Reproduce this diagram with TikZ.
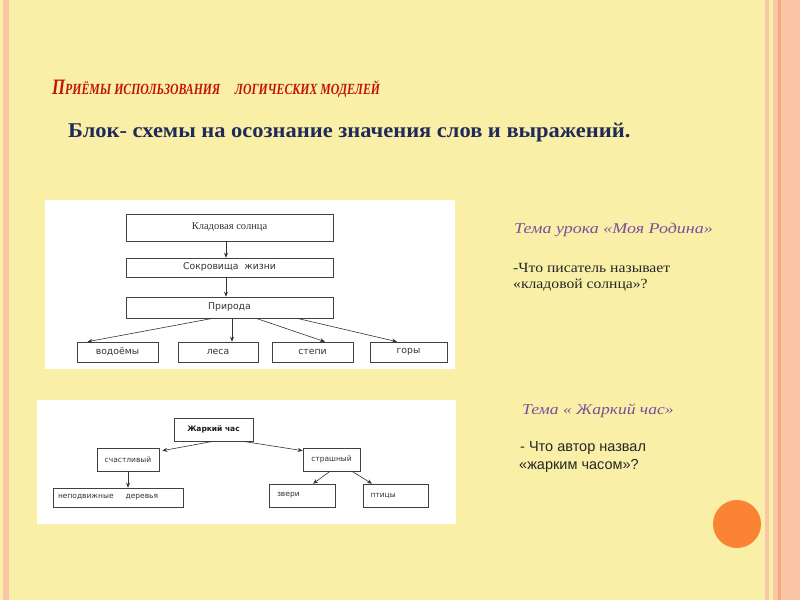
\documentclass[tikz,border=0pt]{standalone}
\usepackage{fontspec}
\setmainfont{Liberation Serif}
\setsansfont{DejaVu Sans}
\newfontfamily\arialf{Liberation Sans}
\usetikzlibrary{arrows.meta}
\definecolor{bgyellow}{HTML}{F9EFA6}
\definecolor{stripepink}{HTML}{FBC6A6}
\definecolor{stripedark}{HTML}{F5A87E}
\definecolor{circleorange}{HTML}{FB8434}
\definecolor{titlered}{HTML}{C0140C}
\definecolor{subnavy}{HTML}{1F2A5A}
\definecolor{purpletext}{HTML}{7F4C9E}
\definecolor{boxtext}{HTML}{333333}
\tikzset{
  boxnode/.style={draw=black!75, line width=0.6pt, fill=white, inner sep=0pt, font=\sffamily\fontsize{9.3}{11}\selectfont, text=boxtext},
  smallbox/.style={boxnode, font=\sffamily\fontsize{7.5}{9}\selectfont},
  conn/.style={-{Stealth[length=5pt,width=4pt]}, line width=0.6pt, draw=black!80},
  panel/.style={fill=white, draw=none},
}
\begin{document}
\begin{tikzpicture}[x=1pt,y=-1pt]
\useasboundingbox (0,0) rectangle (800,600);
% background
\fill[bgyellow] (0,0) rectangle (800,600);
\fill[stripepink] (3,0) rectangle (9,600);
\fill[stripepink] (765,0) rectangle (769,600);
\fill[stripepink] (773,0) rectangle (800,600);
\fill[stripedark] (778,0) rectangle (781,600);
\fill[circleorange] (737,524) circle (24);

% title
\node[anchor=base west, inner sep=0pt, text=titlered, font=\bfseries\itshape] (title) at (52,94)
  {\scalebox{0.76}[1]{{\fontsize{22}{22}\selectfont П}{\fontsize{15.5}{16}\selectfont РИЁМЫ ИСПОЛЬЗОВАНИЯ \quad ЛОГИЧЕСКИХ МОДЕЛЕЙ}}};
\node[anchor=base west, inner sep=0pt, text=subnavy, font=\bfseries\fontsize{21}{22}\selectfont] (sub) at (68,137)
  {\scalebox{1.07}[1]{Блок- схемы на осознание значения слов и выражений.}};

% panel 1
\fill[panel] (45,200) rectangle (455,369);
\node[boxnode, minimum width=207pt, minimum height=27pt, font=\rmfamily\fontsize{10.5}{12}\selectfont] (kl) at (229.5,227.5) {\raisebox{3pt}{Кладовая солнца}};
\node[boxnode, minimum width=207pt, minimum height=19pt] (sok) at (229.5,267.5) {Сокровища\ \ жизни};
\node[boxnode, minimum width=207pt, minimum height=21pt] (pr) at (229.5,307.5) {Природа};
\node[boxnode, minimum width=81pt, minimum height=20pt] (vod) at (117.5,352) {водоёмы};
\node[boxnode, minimum width=80pt, minimum height=20pt] (les) at (218,352) {леса};
\node[boxnode, minimum width=81pt, minimum height=20pt] (stp) at (312.5,352) {степи};
\node[boxnode, minimum width=77pt, minimum height=20pt] (gor) at (408.5,352) {горы};
\draw[conn] (kl.south -| 226,0) -- (sok.north -| 226,0);
\draw[conn] (sok.south -| 226,0) -- (pr.north -| 226,0);
\draw[conn] ([xshift=-16.5pt]pr.south) -- ([xshift=-30pt]vod.north);
\draw[conn] ([xshift=2.5pt]pr.south) -- ([xshift=14pt]les.north);
\draw[conn] ([xshift=26.5pt]pr.south) -- ([xshift=12.5pt]stp.north);
\draw[conn] ([xshift=67.5pt]pr.south) -- ([xshift=-11.5pt]gor.north);

% panel 2
\fill[panel] (37,400) rectangle (456,524);
\node[smallbox, minimum width=79pt, minimum height=23pt, font=\sffamily\bfseries\fontsize{7.5}{9}\selectfont, text=black!90] (zh) at (213.5,429.5) {Жаркий час};
\node[smallbox, minimum width=62pt, minimum height=23pt] (sch) at (128,459.5) {счастливый};
\node[smallbox, minimum width=57pt, minimum height=23pt] (str) at (331.5,459.5) {страшный};
\node[smallbox, minimum width=130pt, minimum height=19pt] (nep) at (118,497.5) {\makebox[120pt][l]{неподвижные\ \ \ \ \ деревья}};
\node[smallbox, minimum width=66pt, minimum height=23pt] (zv) at (302,495.5) {\makebox[50pt][l]{звери}};
\node[smallbox, minimum width=65pt, minimum height=23pt] (pt) at (395.5,495.5) {\makebox[50pt][l]{птицы}};
\draw[conn] ([xshift=-0.5pt]zh.south) -- ([xshift=3pt,yshift=-3pt]sch.north east);
\draw[conn] ([xshift=29.5pt]zh.south) -- ([yshift=-3pt]str.north west);
\draw[conn] (sch.south) -- (nep.north -| sch.south);
\draw[conn] ([xshift=-1.5pt]str.south) -- ([xshift=11pt]zv.north);
\draw[conn] ([xshift=20.5pt]str.south) -- ([xshift=-23.5pt]pt.north);

% right texts
\node[anchor=base west, inner sep=0pt, text=purpletext, font=\itshape\fontsize{15}{16}\selectfont] (t1) at (514,233) {\scalebox{1.2}[1]{Тема урока «Моя Родина»}};
\node[anchor=base west, inner sep=0pt, text=black!85, font=\fontsize{14}{16}\selectfont, align=left] (q1) at (513,272) {\scalebox{1.12}[1]{-Что писатель называет}};
\node[anchor=base west, inner sep=0pt, text=black!85, font=\fontsize{14}{16}\selectfont, align=left] (q1b) at (513,288) {\scalebox{1.12}[1]{«кладовой солнца»?}};
\node[anchor=base west, inner sep=0pt, text=purpletext, font=\itshape\fontsize{15}{16}\selectfont] (t2) at (522,414) {\scalebox{1.17}[1]{Тема « Жаркий час»}};
\node[anchor=base west, inner sep=0pt, text=black!85, font=\arialf\fontsize{14.5}{16}\selectfont] (q2) at (520,451) {- Что автор назвал};
\node[anchor=base west, inner sep=0pt, text=black!85, font=\arialf\fontsize{14.5}{16}\selectfont] (q2b) at (519,469) {«жарким часом»?};
\end{tikzpicture}
\end{document}
